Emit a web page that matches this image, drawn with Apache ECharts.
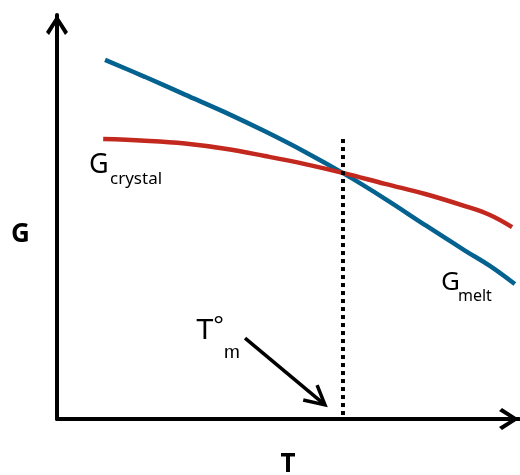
<!DOCTYPE html>
<html>
<head>
<meta charset="utf-8">
<script src="https://cdn.jsdelivr.net/npm/echarts@6/dist/echarts.min.js"></script>
<style>html,body{margin:0;padding:0;background:#fff}#c{width:520px;height:475px}</style>
</head>
<body>
<div id="c"></div>
<script>
// Curve data (T, G in arbitrary units 0-100)
var meltT     = [10.4, 19.0, 27.7, 36.4, 45.0, 53.7, 62.3, 71.0, 79.7, 88.3, 93.7, 99.1];
var meltG     = [88.9, 84.7, 80.3, 75.9, 71.2, 66.1, 60.6, 54.5, 48.0, 41.7, 37.9, 33.4];
var crystalT  = [10.0, 19.0, 27.7, 36.4, 45.0, 53.7, 62.3, 71.0, 79.7, 88.3, 93.7, 98.5];
var crystalG  = [69.3, 68.9, 68.2, 66.9, 65.1, 63.1, 60.8, 58.2, 55.7, 52.7, 50.5, 47.5];
var tmT       = [61.9, 61.9];
var tmG       = [69.3, 0];
var pointerT  = [40.7, 58.0];
var pointerG  = [20.0, 3.5];
var headT     = [56.3, 58.0, 53.3];
var headG     = [8.4, 3.5, 4.7];

function pairs(xs, ys) { return xs.map(function (x, i) { return [x, ys[i]]; }); }

var chevron = 'path://M11,0 L22,17 L19,20 L11,7 L3,20 L0,17 Z';

var chart = echarts.init(document.getElementById('c'));
chart.setOption({
  animation: false,
  grid: { left: 57, right: 1, top: 15, bottom: 56, outerBoundsMode: 'none', containLabel: false },
  xAxis: {
    type: 'value', min: 0, max: 100,
    name: 'T', nameLocation: 'middle', nameGap: 33,
    nameTextStyle: { fontFamily: 'Noto Sans', fontWeight: 'bold', fontSize: 26, color: '#000' },
    axisLine: { lineStyle: { color: '#000', width: 4 }, symbol: ['none', chevron], symbolSize: [22, 20], symbolOffset: [0, -10] },
    axisTick: { show: false }, axisLabel: { show: false }, splitLine: { show: false }
  },
  yAxis: {
    type: 'value', min: 0, max: 100,
    axisLine: { lineStyle: { color: '#000', width: 4 }, symbol: ['none', chevron], symbolSize: [22, 20], symbolOffset: [0, -10] },
    axisTick: { show: false }, axisLabel: { show: false }, splitLine: { show: false }
  },
  series: [
    { type: 'line', data: pairs(meltT, meltG), smooth: 0.4, showSymbol: false,
      lineStyle: { color: '#03628f', width: 4.5 }, z: 2 },
    { type: 'line', data: pairs(crystalT, crystalG), smooth: 0.4, showSymbol: false,
      lineStyle: { color: '#c2281d', width: 4.5 }, z: 2 },
    { type: 'line', data: pairs(tmT, tmG), showSymbol: false,
      lineStyle: { color: '#000', width: 4, type: [4, 4], cap: 'butt' }, z: 3 },
    { type: 'line', data: pairs(pointerT, pointerG), showSymbol: false,
      lineStyle: { color: '#000', width: 3.5 }, z: 3 },
    { type: 'line', data: pairs(headT, headG), showSymbol: false,
      lineStyle: { color: '#000', width: 3.5, join: 'miter' }, z: 3 }
  ],
  graphic: [
    { type: 'text', left: 11, top: 222, style: { text: 'G', font: 'bold 26px "Noto Sans"', fill: '#000' } },
    { type: 'text', left: 89, top: 152, style: { text: 'G', font: '27px "Noto Sans"', fill: '#000' } },
    { type: 'text', left: 110, top: 171, style: { text: 'crystal', font: '17px "Noto Sans"', fill: '#000' } },
    { type: 'text', left: 441, top: 270, style: { text: 'G', font: '26px "Noto Sans"', fill: '#000' } },
    { type: 'text', left: 458, top: 288, style: { text: 'melt', font: '16px "Noto Sans"', fill: '#000' } },
    { type: 'text', left: 196, top: 316, style: { text: 'T', font: '29px "Liberation Sans"', fill: '#000' } },
    { type: 'text', left: 213, top: 313, style: { text: '°', font: '28px "Liberation Sans"', fill: '#000' } },
    { type: 'text', left: 224, top: 343, style: { text: 'm', font: '19px "Liberation Sans"', fill: '#000' } }
  ]
});
</script>
</body>
</html>
